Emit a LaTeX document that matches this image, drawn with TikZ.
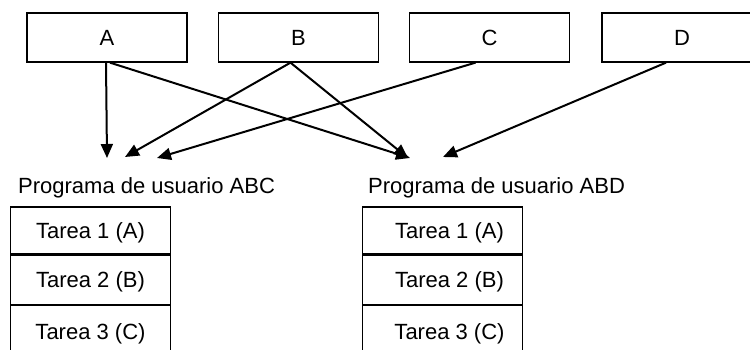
\documentclass[tikz,border=0pt]{standalone}
\usepackage{fontspec}
\setmainfont{Liberation Sans}
\usetikzlibrary{arrows.meta,positioning,calc}
\tikzset{
  modulo/.style={draw,line width=1.3pt,minimum width=160pt,minimum height=49pt,inner sep=0pt},
  tarea/.style={draw,line width=1.3pt,minimum width=160pt,inner sep=0pt,text depth=0pt},
  flecha/.style={line width=2pt,-{Triangle[length=14pt,width=12pt]}},
  titulo/.style={anchor=west,inner sep=0pt},
}
\begin{document}
\begin{tikzpicture}[x=1pt,y=-1pt,font=\fontsize{22}{26}\selectfont]
  \useasboundingbox (0,0) rectangle (750,350);
  % modulos de arriba
  \node[modulo] (A) at (107,37.5) {A};
  \node[modulo] (B) at (298.5,37.5) {B};
  \node[modulo] (C) at (489.5,37.5) {C};
  \node[modulo] (D) at (682,37.5) {D};
  % puntas de las flechas
  \coordinate (pA) at (107,158);
  \coordinate (pB) at (125,157);
  \coordinate (pC) at (157,158);
  \coordinate (qA) at (410,158);
  \coordinate (qB) at (408,158);
  \coordinate (qD) at (443,157);
  \draw[flecha] ($(A.south)+(-1,0)$) -- (pA);
  \draw[flecha] ($(A.south)+(3,0)$) -- (qA);
  \draw[flecha] ($(B.south)+(-8,0)$) -- (pB);
  \draw[flecha] ($(B.south)+(-8,0)$) -- (qB);
  \draw[flecha] ($(C.south)+(-14,0)$) -- (pC);
  \draw[flecha] ($(D.south)+(-16,0)$) -- (qD);
  % programas de usuario
  \node[titulo] (tABC) at (18,188) {Programa de usuario ABC};
  \node[titulo] (tABD) at (368,188) {Programa de usuario ABD};
  \node[tarea,minimum height=47pt] (a1) at (90.5,230.5) {Tarea 1 (A)};
  \node[tarea,minimum height=49pt,below=0pt of a1] (a2) {Tarea 2 (B)};
  \node[tarea,minimum height=52pt,below=0pt of a2] (a3) {Tarea 3 (C)};
  \node[tarea,minimum height=47pt] (b1) at (442.5,230.5) {\hspace{14pt}Tarea 1 (A)};
  \node[tarea,minimum height=49pt,below=0pt of b1] (b2) {\hspace{14pt}Tarea 2 (B)};
  \node[tarea,minimum height=52pt,below=0pt of b2] (b3) {\hspace{14pt}Tarea 3 (C)};
\end{tikzpicture}
\end{document}
